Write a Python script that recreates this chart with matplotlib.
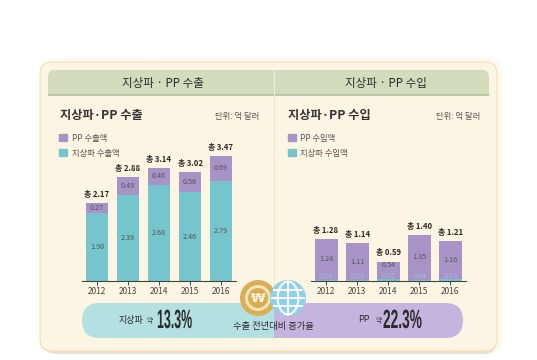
import numpy as np
import matplotlib
matplotlib.use("Agg")
import matplotlib.pyplot as plt
from matplotlib.patches import Circle, FancyBboxPatch, Rectangle, Patch, Ellipse
from matplotlib.patheffects import AbstractPathEffect
from matplotlib.transforms import Affine2D

plt.rcParams['font.family'] = ['Noto Sans CJK KR', 'DejaVu Sans']

# 데이터
years = ['2012', '2013', '2014', '2015', '2016']
export_ground = [1.90, 2.39, 2.68, 2.46, 2.79]
export_pp = [0.27, 0.49, 0.46, 0.56, 0.69]
export_total = [2.17, 2.88, 3.14, 3.02, 3.47]
import_ground = [0.04, 0.03, 0.05, 0.04, 0.05]
import_pp = [1.24, 1.11, 0.54, 1.35, 1.16]
import_total = [1.28, 1.14, 0.59, 1.40, 1.21]

W, H = 537, 360
TEAL = '#74C6CC'
PURPLE = '#A893C6'
CARD = '#FDF5E3'
DARK = '#2B2B2B'
GREY = '#555555'


# 글자를 가로로 좁히는 효과 (텍스트는 그대로 유지)
class Squeeze(AbstractPathEffect):
    def __init__(self, sx, x0):
        super().__init__()
        self.sx = sx
        self.x0 = x0

    def draw_path(self, renderer, gc, tpath, affine, rgbFace=None):
        squeeze = Affine2D().translate(-self.x0, 0).scale(self.sx, 1).translate(self.x0, 0)
        renderer.draw_path(gc, tpath, affine + squeeze, rgbFace)


def px_axes(fig, x0, y_top, x1, y_bottom):
    return fig.add_axes([x0 / W, 1 - y_bottom / H, (x1 - x0) / W, (y_bottom - y_top) / H])


def draw_bars(ax, ground, pp, total, label_pp, label_ground, legend_xy):
    x = np.arange(len(years))
    ax.bar(x, ground, width=0.74, color=TEAL)
    ax.bar(x, pp, width=0.74, bottom=ground, color=PURPLE)
    for i in range(len(years)):
        small = ground[i] < 0.2
        ax.text(i, ground[i] / 2 if not small else 0.16, f'{ground[i]:.2f}', ha='center', va='center',
                fontsize=5.2, color='#A3B6E2' if small else GREY)
        ypp = ground[i] + pp[i] / 2
        if small and pp[i] < 0.7:
            ypp = ground[i] + pp[i] * 0.8  # 막대가 낮으면 위쪽으로
        ax.text(i, ypp, f'{pp[i]:.2f}', ha='center', va='center', fontsize=5.2, color=GREY)
        ax.annotate(f'총 {total[i]:.2f}', (i, total[i]), xytext=(0, 3), textcoords='offset points',
                    ha='center', va='bottom', fontsize=5.6, fontweight='bold', color=DARK)
    ax.set_xticks(x, years)
    ax.set_yticks([])
    ax.set_xlim(-0.5, len(years) - 0.5)
    ax.patch.set_alpha(0)
    for s in ['top', 'left', 'right']:
        ax.spines[s].set_visible(False)
    ax.spines['bottom'].set_linewidth(0.8)
    ax.spines['bottom'].set_color('#444444')
    ax.tick_params(axis='x', length=3, width=0.7, pad=1.5, labelsize=6, labelcolor='#444444', color='#444444')
    handles = [Patch(color=PURPLE, label=label_pp), Patch(color=TEAL, label=label_ground)]
    ax.legend(handles=handles, loc='upper left', bbox_to_anchor=legend_xy, bbox_transform=fig.transFigure,
              frameon=False, fontsize=6, labelcolor=GREY, handlelength=0.9, handleheight=0.9,
              handletextpad=0.6, labelspacing=0.75, borderpad=0, borderaxespad=0)


fig = plt.figure(figsize=(W / 100, H / 100), dpi=100, facecolor='white')

# 배경 카드 (픽셀 좌표)
bg = fig.add_axes([0, 0, 1, 1])
bg.set_xlim(0, W)
bg.set_ylim(H, 0)
bg.axis('off')

bg.add_patch(FancyBboxPatch((44, 58), 458, 296, boxstyle='round,pad=0,rounding_size=14',
                            fc='#FEFAF0', ec='none'))
bg.add_patch(FancyBboxPatch((44, 66), 452, 288, boxstyle='round,pad=0,rounding_size=12',
                            fc='#E6E1D3', ec='none'))
bg.add_patch(FancyBboxPatch((40, 62), 457, 289, boxstyle='round,pad=0,rounding_size=12',
                            fc=CARD, ec='#F2DFB0', lw=0.8))
bg.add_patch(FancyBboxPatch((48, 70), 441, 25, boxstyle='round,pad=0,rounding_size=7',
                            fc='#D3DDBE', ec='none'))
bg.add_patch(Rectangle((48, 82), 441, 13, fc='#D3DDBE', ec='none'))
bg.add_patch(Rectangle((48, 94), 441, 2, fc='#B9C7A5', ec='none'))
bg.plot([274, 274], [70, 338], color='#F3E9D0', lw=0.8)

bg.text(163, 83, '지상파 · PP 수출', ha='center', va='center', fontsize=8.3, color=DARK)
bg.text(386, 83, '지상파 · PP 수입', ha='center', va='center', fontsize=8.3, color=DARK)
bg.text(60, 115, '지상파·PP 수출', ha='left', va='center', fontsize=8.8, fontweight='bold', color='#333333')
bg.text(288, 115, '지상파·PP 수입', ha='left', va='center', fontsize=8.8, fontweight='bold', color='#333333')
bg.text(259, 116, '단위: 억 달러', ha='right', va='center', fontsize=6, color=GREY)
bg.text(480, 116, '단위: 억 달러', ha='right', va='center', fontsize=6, color=GREY)

# 차트
ax1 = px_axes(fig, 81.5, 120, 236.5, 281)
ax1.set_ylim(0, 161 / 36)
draw_bars(ax1, export_ground, export_pp, export_total, 'PP 수출액', '지상파 수출액', (59 / W, 1 - 133.5 / H))

ax2 = px_axes(fig, 310.5, 120, 466, 281)
ax2.set_ylim(0, 161 / 33)
draw_bars(ax2, import_ground, import_pp, import_total, 'PP 수입액', '지상파 수입액', (288 / W, 1 - 133.5 / H))

# 하단 증가율 바
top = fig.add_axes([0, 0, 1, 1])
top.set_xlim(0, W)
top.set_ylim(H, 0)
top.axis('off')
top.patch.set_alpha(0)
top.add_patch(FancyBboxPatch((82, 303), 200, 35, boxstyle='round,pad=0,rounding_size=17.5',
                             fc='#B5E0E2', ec='none'))
top.add_patch(FancyBboxPatch((266, 303), 197, 35, boxstyle='round,pad=0,rounding_size=17.5',
                             fc='#C5B5DE', ec='none'))
top.add_patch(Rectangle((266, 303), 8, 35, fc='#B5E0E2', ec='none'))
top.add_patch(Rectangle((274, 303), 8, 35, fc='#C5B5DE', ec='none'))

top.text(131, 320, '지상파', ha='center', va='center', fontsize=6.5, color=DARK)
top.text(150, 321, '약', ha='center', va='center', fontsize=4.8, color=DARK)
top.text(157, 321, '13.3%', ha='left', va='center', fontsize=19, fontweight='bold',
         family=['Liberation Sans', 'DejaVu Sans'], color=DARK, path_effects=[Squeeze(0.47, 157)])
top.text(364, 320, 'PP', ha='center', va='center', fontsize=6.5, color=DARK)
top.text(379, 321, '약', ha='center', va='center', fontsize=4.8, color=DARK)
top.text(383, 321, '22.3%', ha='left', va='center', fontsize=19, fontweight='bold',
         family=['Liberation Sans', 'DejaVu Sans'], color=DARK, path_effects=[Squeeze(0.52, 383)])
top.text(273, 326, '수출 전년대비 증가율', ha='center', va='center', fontsize=6.7, fontweight='medium', color=DARK)

# 동전 아이콘
top.add_patch(Circle((258, 298), 18, fc='#D9AE55', ec='none'))
top.add_patch(Circle((258, 298), 13, fc='#F4E3B5', ec='none'))
top.add_patch(Circle((258, 298), 10, fc='#D9AE55', ec='none'))
top.text(258, 298, '₩', ha='center', va='center', fontsize=9.5, fontweight='bold', color='#FBF3DC',
         family=['DejaVu Sans'])

# 지구본 아이콘
gx, gy, gr = 288, 298, 18
top.add_patch(Circle((gx, gy), gr, fc='#8AD1EC', ec='none'))
top.add_patch(Ellipse((gx, gy), gr * 1.15, gr * 2 - 3, fc='none', ec='white', lw=1.5))
top.plot([gx, gx], [gy - gr + 2, gy + gr - 2], color='white', lw=1.5)
top.plot([gx - gr + 2, gx + gr - 2], [gy, gy], color='white', lw=1.5)
top.plot([gx - gr + 4, gx + gr - 4], [gy - 8, gy - 8], color='white', lw=1.5)
top.plot([gx - gr + 4, gx + gr - 4], [gy + 8, gy + 8], color='white', lw=1.5)

fig.savefig('out.png', dpi=100, facecolor='white')
